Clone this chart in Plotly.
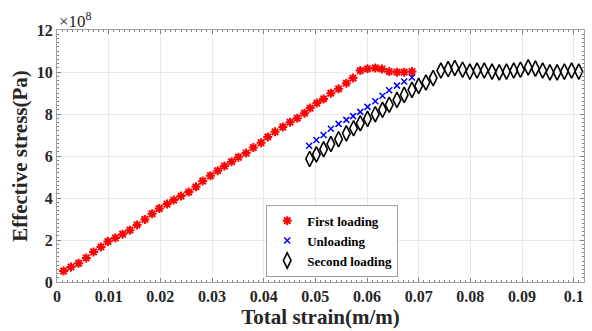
import plotly.graph_objects as go

# First loading (strain m/m, stress x1e8 Pa)
first_strain = [0.00128, 0.00271, 0.00418, 0.00567, 0.00708, 0.00851, 0.00986, 0.0113, 0.0127, 0.0141,
                0.0155, 0.0170, 0.0184, 0.0198, 0.0213, 0.0226, 0.0240, 0.0255, 0.0269, 0.0282,
                0.0297, 0.0311, 0.0324, 0.0338, 0.0351, 0.0366, 0.0380, 0.0395, 0.0408, 0.0422,
                0.0437, 0.0451, 0.0465, 0.0479, 0.0490, 0.0503, 0.0516, 0.0530, 0.0545, 0.0560,
                0.0573, 0.0587, 0.0601, 0.0616, 0.0629, 0.0643, 0.0658, 0.0672, 0.0687]
first_stress = [0.525, 0.716, 0.893, 1.146, 1.432, 1.671, 1.928, 2.10, 2.277, 2.468,
                2.72, 2.98, 3.25, 3.50, 3.71, 3.90, 4.09, 4.28, 4.53, 4.81,
                5.06, 5.30, 5.52, 5.73, 5.94, 6.14, 6.40, 6.63, 6.91, 7.15,
                7.38, 7.61, 7.80, 8.04, 8.28, 8.52, 8.72, 8.99, 9.20, 9.47,
                9.71, 10.07, 10.15, 10.19, 10.14, 10.02, 9.99, 9.99, 10.02]

# Unloading
unload_strain = [0.0488, 0.0502, 0.0516, 0.0530, 0.0545, 0.0560, 0.0573, 0.0587, 0.0601, 0.0616,
                 0.0630, 0.0643, 0.0658, 0.0672, 0.0687]
unload_stress = [6.49, 6.76, 7.00, 7.30, 7.53, 7.72, 7.90, 8.10, 8.34, 8.61,
                 8.87, 9.13, 9.35, 9.55, 9.74]

# Second loading
second_strain = [0.0489, 0.0502, 0.0516, 0.0530, 0.0545, 0.0560, 0.0574, 0.0587, 0.0601, 0.0616,
                 0.0630, 0.0643, 0.0658, 0.0672, 0.0687, 0.0700, 0.0714, 0.0728, 0.0743, 0.0757,
                 0.0770, 0.0785, 0.0799, 0.0813, 0.0827, 0.0842, 0.0856, 0.0870, 0.0884, 0.0897,
                 0.0912, 0.0926, 0.0940, 0.0954, 0.0968, 0.0982, 0.0996, 0.1010]
second_stress = [5.86, 6.08, 6.32, 6.57, 6.80, 7.08, 7.32, 7.56, 7.77, 7.99,
                 8.20, 8.44, 8.67, 8.91, 9.15, 9.34, 9.50, 9.71, 10.07, 10.14,
                 10.19, 10.11, 10.02, 10.07, 10.07, 10.02, 9.98, 10.02, 10.07, 10.11,
                 10.22, 10.16, 10.07, 9.98, 9.98, 10.02, 10.07, 10.02]

y_ticks = [0, 2, 4, 6, 8, 10, 12]
x_ticks = [0, 0.01, 0.02, 0.03, 0.04, 0.05, 0.06, 0.07, 0.08, 0.09, 0.1]
x_labels = ["0", "0.01", "0.02", "0.03", "0.04", "0.05", "0.06", "0.07", "0.08", "0.09", "0.1"]

SCALE = 1e8
FONT = "Liberation Serif, Times New Roman, serif"

fig = go.Figure()
fig.add_trace(go.Scatter(
    x=first_strain, y=[v * SCALE for v in first_stress], mode="markers", name="<b>First loading</b>",
    marker=dict(symbol="asterisk-open", size=7.5, color="red", line=dict(color="red", width=2))))
fig.add_trace(go.Scatter(
    x=unload_strain, y=[v * SCALE for v in unload_stress], mode="markers", name="<b>Unloading</b>",
    marker=dict(symbol="x-thin-open", size=6, color="blue", line=dict(color="blue", width=1.5))))
fig.add_trace(go.Scatter(
    x=second_strain, y=[v * SCALE for v in second_stress], mode="markers", name="<b>Second loading</b>",
    marker=dict(symbol="diamond-tall-open", size=11, color="black", line=dict(color="black", width=1.6))))

axis_common = dict(
    showline=True, linecolor="#a0a0a0", linewidth=1, mirror="allticks",
    ticks="inside", ticklen=4, tickcolor="#808080",
    showgrid=True, gridcolor="#e8e8e8", gridwidth=1, zeroline=False,
    tickfont=dict(family=FONT, size=16, color="#262626"),
)

fig.update_layout(
    width=592, height=331,
    margin=dict(l=57, r=8, t=30, b=49),
    paper_bgcolor="white", plot_bgcolor="white",
    font=dict(family=FONT, color="#262626"),
    showlegend=True,
    legend=dict(x=0.397, y=0.021, xanchor="left", yanchor="bottom",
                bgcolor="white", bordercolor="#a0a0a0", borderwidth=1,
                font=dict(family=FONT, size=13, color="black"),
                tracegroupgap=0, itemwidth=30),
    xaxis=dict(axis_common, range=[0, 0.102], tickvals=x_ticks, ticktext=["<b>%s</b>" % t for t in x_labels],
               minor=dict(dtick=0.001, ticks="inside", ticklen=2, tickcolor="#808080", showgrid=False),
               title=dict(text="<b>Total strain(m/m)</b>", font=dict(family=FONT, size=21, color="#262626"), standoff=4)),
    yaxis=dict(axis_common, range=[0, 12 * SCALE], tickvals=[t * SCALE for t in y_ticks],
               ticktext=["<b>%d</b>" % t for t in y_ticks],
               minor=dict(dtick=0.2 * SCALE, ticks="inside", ticklen=2, tickcolor="#808080", showgrid=False),
               title=dict(text="<b>Effective stress(Pa)</b>", font=dict(family=FONT, size=21, color="#262626"), standoff=3)),
)
fig.add_annotation(x=0, y=1, xref="paper", yref="paper", xanchor="left", yanchor="bottom",
                   text="×10<sup>8</sup>", showarrow=False, xshift=0, yshift=-3,
                   font=dict(family=FONT, size=17, color="#262626"))

fig.write_html("out.html")
